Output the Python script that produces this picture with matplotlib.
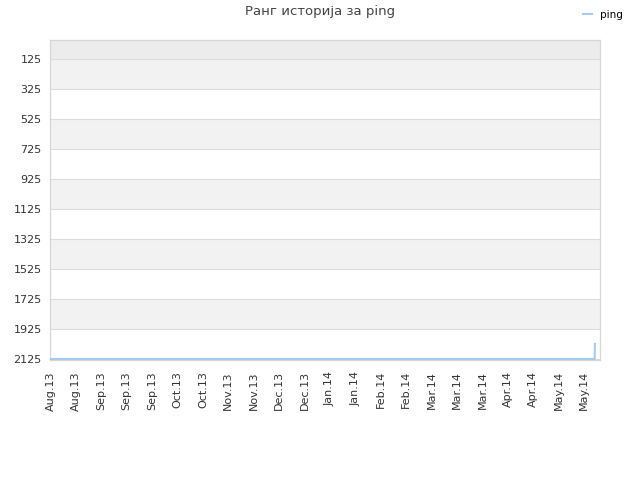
import matplotlib
matplotlib.use("Agg")
import matplotlib.pyplot as plt
from matplotlib.lines import Line2D

# tick labels along the bottom (one per tick position)
month_labels = ["Aug.13", "Aug.13", "Sep.13", "Sep.13", "Sep.13", "Oct.13", "Oct.13",
                "Nov.13", "Nov.13", "Dec.13", "Dec.13", "Jan.14", "Jan.14", "Feb.14",
                "Feb.14", "Mar.14", "Mar.14", "Mar.14", "Apr.14", "Apr.14", "May.14", "May.14"]
rank_ticks = [125, 325, 525, 725, 925, 1125, 1325, 1525, 1725, 1925, 2125]

# the rank series: flat at the bottom, a small rise at the very end
pos_x = [0.0, 21.42, 21.43]
rank = [2125, 2125, 2025]

plt.rcParams['font.family'] = ['DejaVu Sans']

fig = plt.figure(figsize=(6.4, 4.8), dpi=100)
ax = fig.add_axes([50 / 640, 120 / 480, 550 / 640, 320 / 480])

y_top, y_bot = -2, 2132
ax.set_xlim(-0.02, 21.63)
ax.set_ylim(y_bot, y_top)

# alternating bands
ax.axhspan(y_top, rank_ticks[0], color='#ececec', zorder=0, lw=0)
for i in range(len(rank_ticks) - 1):
    c = '#f2f2f2' if i % 2 == 0 else '#ffffff'
    ax.axhspan(rank_ticks[i], rank_ticks[i + 1], color=c, zorder=0, lw=0)
for t in rank_ticks:
    ax.axhline(t, color='#dcdcdc', lw=0.8, zorder=1)

ax.plot(pos_x, rank, color='#a3ccf0', lw=1.5, zorder=3, solid_joinstyle='miter')

ax.set_yticks(rank_ticks)
ax.set_yticklabels([str(t) for t in rank_ticks])
ax.set_xticks(range(len(month_labels)))
ax.set_xticklabels(month_labels, rotation=90)
ax.tick_params(axis='both', length=0, labelsize=8, colors='#333333', pad=6)
ax.tick_params(axis='x', pad=8)

for s in ax.spines.values():
    s.set_color('#d6d6d6')
    s.set_linewidth(0.9)

fig.text(0.5, 1 - 12 / 480, "Ранг историја за ping", ha='center', va='center',
         fontsize=9.5, color='#444444')

handle = Line2D([], [], color='#a3ccf0', lw=1.5)
fig.legend([handle], ["ping"], loc='center right', bbox_to_anchor=(623 / 640, 1 - 15 / 480),
           frameon=False, fontsize=7.5, handlelength=0.8, handletextpad=0.8,
           borderaxespad=0, borderpad=0)

fig.savefig("out.png", dpi=100)
